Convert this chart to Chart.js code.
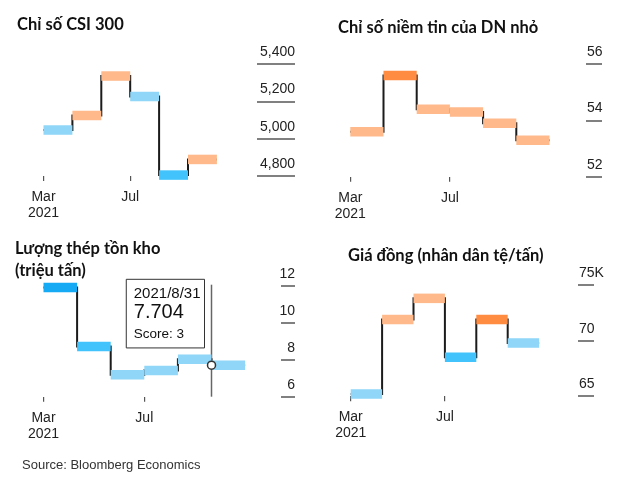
<!DOCTYPE html>
<html><head><meta charset="utf-8">
<script src="https://cdn.jsdelivr.net/npm/chart.js@4/dist/chart.umd.min.js"></script>
<style>
html,body{margin:0;padding:0;background:#fff;}
#wrap{position:relative;width:640px;height:479px;overflow:hidden;background:#fff;}
canvas{position:absolute;}
.title{position:absolute;font-family:Lato,"Open Sans",sans-serif;font-weight:700;font-size:16.5px;line-height:20px;color:#111;white-space:nowrap;}
#src{position:absolute;left:22px;top:457.5px;font-family:"Liberation Sans",Arial,sans-serif;font-size:13px;line-height:1;color:#333;white-space:nowrap;}
</style></head>
<body><div id="wrap">
<canvas id="c1" width="320" height="230" style="left:0;top:0"></canvas>
<canvas id="c2" width="320" height="230" style="left:320px;top:0"></canvas>
<canvas id="c3" width="320" height="249" style="left:0;top:230px"></canvas>
<canvas id="c4" width="320" height="249" style="left:320px;top:230px"></canvas>
<div class="title" style="left:17px;top:14.3px">Chỉ số CSI 300</div>
<div class="title" style="left:338px;top:16.9px">Chỉ số niềm tin của DN nhỏ</div>
<div class="title" style="left:15px;top:237.8px;line-height:21.7px">Lượng thép tồn kho<br>(triệu tấn)</div>
<div class="title" style="left:348px;top:245.3px">Giá đồng (nhân dân tệ/tấn)</div>
<div id="src">Source: Bloomberg Economics</div>
</div>
<script>
// ---- data ----
const xTickValues = [0, 3];
const xTickLabels = [['Mar', '2021'], 'Jul'];

const csiValues = [5047, 5125, 5337, 5227, 4805, 4889];
const csiScores = [3, 4, 4, 3, 2, 4];
const csiTicks = [4800, 5000, 5200, 5400];
const csiTickLabels = ['4,800', '5,000', '5,200', '5,400'];

const smeValues = [53.6, 55.6, 54.4, 54.3, 53.9, 53.3];
const smeScores = [4, 5, 4, 4, 4, 4];
const smeTicks = [52, 54, 56];
const smeTickLabels = ['52', '54', '56'];

const steelValues = [11.9, 8.72, 7.19, 7.41, 8.02, 7.704];
const steelScores = [1, 2, 3, 3, 3, 3];
const steelTicks = [6, 8, 10, 12];
const steelTickLabels = ['6', '8', '10', '12'];

const copperValues = [65.2, 71.9, 73.8, 68.5, 71.9, 69.8];
const copperScores = [3, 4, 4, 2, 5, 3];
const copperTicks = [65, 70, 75];
const copperTickLabels = ['65', '70', '75K'];

const tooltipIndex = 5;
const tooltipDate = '2021/8/31';

// ---- style ----
const scoreColors = {1: '#16a9f4', 2: '#42c3fc', 3: '#8fd6f8', 4: '#ffb98b', 5: '#ff8c40'};
const FONT = '"Liberation Sans", Arial, sans-serif';

Chart.Tooltip.positioners.panelTop = function (items) {
  if (!items.length) return false;
  const el = items[0].element;
  return {x: el.x - 7, y: this.chart.chartArea.top - 6.4};
};

const hoverLine = {
  id: 'hoverLine',
  beforeDatasetsDraw(chart) {
    const a = chart.tooltip && chart.tooltip.getActiveElements();
    if (!a || !a.length) return;
    const x = a[0].element.x;
    const {top, bottom} = chart.chartArea;
    const ctx = chart.ctx;
    ctx.save();
    ctx.strokeStyle = '#666';
    ctx.lineWidth = 1.5;
    ctx.beginPath();
    ctx.moveTo(x, top - 1);
    ctx.lineTo(x, bottom);
    ctx.stroke();
    ctx.restore();
  }
};

function buildPanel(id, values, scores, yTicks, yTickLabels, g, withTooltip) {
  const n = values.length;
  const stepData = values.map((v, i) => ({x: i, y: v})).concat([{x: n, y: values[n - 1]}]);
  const barData = values.map((v, i) => ({x: i + 0.5, y: v}));
  const markData = values.map((v, i) => ({x: i, y: v}));
  const halfBar = c => {
    const s = c.chart.scales.x;
    const r = (s.getPixelForValue(1) - s.getPixelForValue(0)) / 2;
    return isFinite(r) && r > 0 ? r : 0;
  };
  const colorOf = c => scoreColors[scores[c.dataIndex]];
  const xAxisH = 50;
  const axisW = g.labelAlign === 'right' ? g.tickLen : 40;
  const yTickOpts = g.labelAlign === 'right'
    ? {mirror: true, crossAlign: 'near', padding: g.tickLen}
    : {mirror: false, crossAlign: 'near', padding: -g.tickLen + 1};

  const chart = new Chart(document.getElementById(id), {
    type: 'line',
    data: {datasets: [
      {data: stepData, stepped: true, borderColor: '#1b1b1b', borderWidth: 2,
       pointRadius: 0, pointHoverRadius: 0, pointHitRadius: 0, clip: false, order: 3},
      {data: barData, showLine: false, pointStyle: 'line',
       pointRadius: halfBar, pointHoverRadius: halfBar,
       pointBorderWidth: 9.5, pointHoverBorderWidth: 9.5,
       pointBorderColor: colorOf, pointHoverBorderColor: colorOf,
       pointBackgroundColor: colorOf, pointHoverBackgroundColor: colorOf,
       pointHitRadius: 0, clip: false, order: 2},
      {data: markData, showLine: false, pointRadius: 0, pointHoverRadius: 4,
       pointBackgroundColor: '#fff', pointHoverBackgroundColor: '#fff',
       pointHoverBorderColor: '#333', pointBorderColor: '#333', pointHoverBorderWidth: 1.5,
       pointHitRadius: 0, clip: false, order: 1}
    ]},
    options: {
      responsive: false, animation: false, events: [], devicePixelRatio: 1,
      layout: {autoPadding: false, padding: {
        left: g.left, top: g.top, right: g.w - g.axisLeft - axisW, bottom: g.h - g.bottom - xAxisH}},
      plugins: {
        legend: {display: false},
        tooltip: {
          enabled: !!withTooltip, position: 'panelTop', xAlign: 'right', yAlign: 'top',
          backgroundColor: '#fff', borderColor: '#333', borderWidth: 1, cornerRadius: 0,
          caretSize: 0, caretPadding: 0, displayColors: false,
          padding: {top: 5.4, bottom: 6.2, left: 7.5, right: 4},
          titleColor: '#111', bodyColor: '#111', footerColor: '#111',
          titleFont: {family: FONT, size: 15, weight: 'normal', lineHeight: 1.2},
          bodyFont: {family: FONT, size: 20, weight: 'normal', lineHeight: 1.0},
          footerFont: {family: FONT, size: 13.5, weight: 'normal', lineHeight: 1.15},
          titleMarginBottom: 0, footerMarginTop: 3.5,
          callbacks: {
            title: () => tooltipDate,
            label: it => it.parsed.y.toFixed(3),
            footer: () => 'Score: ' + steelScores[tooltipIndex]
          }
        }
      },
      scales: {
        x: {
          type: 'linear', min: 0, max: (g.axisLeft - g.left) / g.barW,
          afterFit: s => { s.height = xAxisH; },
          afterBuildTicks: s => { s.ticks = xTickValues.map(v => ({value: v})); },
          border: {display: false},
          grid: {drawOnChartArea: false, drawTicks: true, tickLength: 5, color: '#555', lineWidth: 1.2},
          ticks: {autoSkip: false, maxRotation: 0, minRotation: 0, padding: 8, color: '#222',
            font: {family: FONT, size: 14, lineHeight: 1.15},
            callback: (v, i) => xTickLabels[i]}
        },
        y: {
          type: 'linear', position: 'right', min: yTicks[0], max: yTicks[yTicks.length - 1],
          afterFit: s => { s.width = axisW; },
          afterBuildTicks: s => { s.ticks = yTicks.map(v => ({value: v})); },
          border: {display: false},
          grid: {drawOnChartArea: false, drawTicks: true, tickLength: g.tickLen, color: '#808080', lineWidth: 2},
          ticks: Object.assign({color: '#222', labelOffset: -12,
            font: {family: FONT, size: 14},
            callback: (v, i) => yTickLabels[i]}, yTickOpts)
        }
      }
    },
    plugins: withTooltip ? [hoverLine] : []
  });
  return chart;
}

buildPanel('c1', csiValues, csiScores, csiTicks, csiTickLabels,
  {w: 320, h: 230, left: 43.5, top: 64.3, bottom: 176, barW: 28.9, axisLeft: 257, tickLen: 38, labelAlign: 'right'});
buildPanel('c2', smeValues, smeScores, smeTicks, smeTickLabels,
  {w: 320, h: 230, left: 30.3, top: 64.3, bottom: 176.7, barW: 33.2, axisLeft: 266, tickLen: 16, labelAlign: 'left'});
const steel = buildPanel('c3', steelValues, steelScores, steelTicks, steelTickLabels,
  {w: 320, h: 249, left: 43.5, top: 55.7, bottom: 166.7, barW: 33.6, axisLeft: 281, tickLen: 14, labelAlign: 'right'}, true);
buildPanel('c4', copperValues, copperScores, copperTicks, copperTickLabels,
  {w: 320, h: 249, left: 30.7, top: 55, bottom: 166.3, barW: 31.4, axisLeft: 258, tickLen: 16, labelAlign: 'left'});

const active = [{datasetIndex: 2, index: tooltipIndex}];
steel.setActiveElements(active);
steel.update();
const el = steel.getDatasetMeta(2).data[tooltipIndex];
steel.tooltip.setActiveElements(active, {x: el.x, y: el.y});
steel.update();
</script>
</body></html>
